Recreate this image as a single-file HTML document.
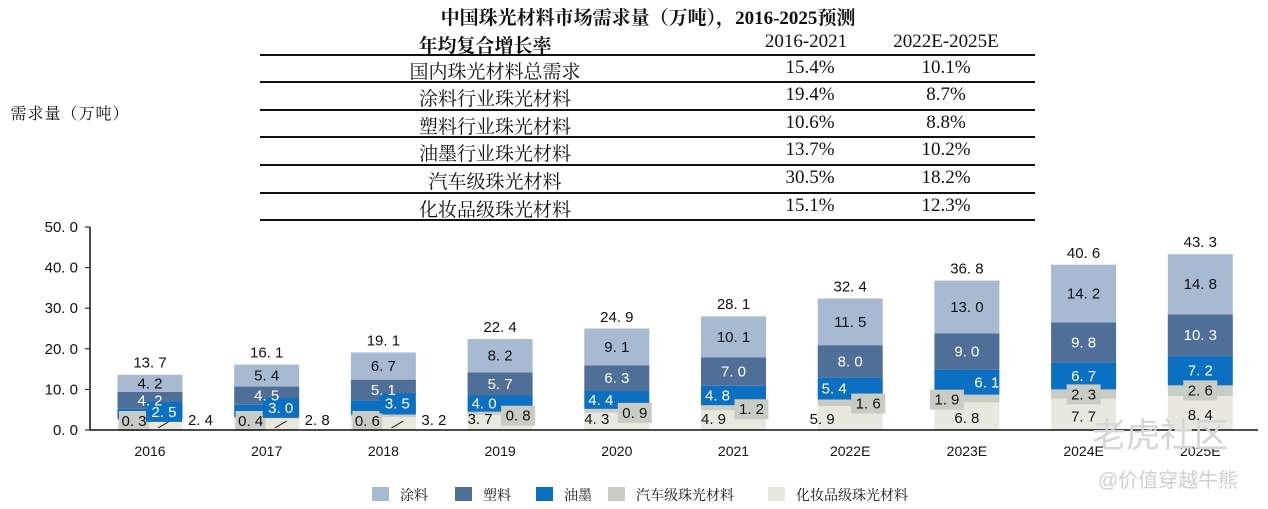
<!DOCTYPE html>
<html><head><meta charset="utf-8"><style>
body{margin:0;background:#fff;width:1268px;height:509px;overflow:hidden;position:relative;font-family:"Liberation Sans","Noto Sans CJK SC",sans-serif}
.t{position:absolute;white-space:nowrap;font-family:"Liberation Serif","Noto Serif CJK SC",serif;font-size:19px;color:#111;transform:translateX(-50%)}
.ln{position:absolute;left:260px;width:775px;height:2px;background:#111}
</style></head><body>
<div class="t" style="left:648px;top:3px;font-weight:bold;">中国珠光材料市场需求量（万吨），2016-2025预测</div>
<div class="t" style="left:485px;top:31px;font-weight:bold;">年均复合增长率</div>
<div class="t" style="left:806px;top:31px;">2016-2021</div>
<div class="t" style="left:946px;top:31px;">2022E-2025E</div>
<div id="tbl"></div>
<div class="t" style="left:70px;top:101px;font-size:16px;letter-spacing:1px;">需求量（万吨）</div>
<svg id="chart" width="1268" height="509" style="position:absolute;left:0;top:0"></svg>
<script>
const rows=["国内珠光材料总需求","涂料行业珠光材料","塑料行业珠光材料","油墨行业珠光材料","汽车级珠光材料","化妆品级珠光材料"];
const cagr1=["15.4%","19.4%","10.6%","13.7%","30.5%","15.1%"];
const cagr2=["10.1%","8.7%","8.8%","10.2%","18.2%","12.3%"];
const categories=["2016","2017","2018","2019","2020","2021","2022E","2023E","2024E","2025E"];
const cosmetics=[2.4,2.8,3.2,3.7,4.3,4.9,5.9,6.8,7.7,8.4];
const auto=[0.3,0.4,0.6,0.8,0.9,1.2,1.6,1.9,2.3,2.6];
const ink=[2.5,3.0,3.5,4.0,4.4,4.8,5.4,6.1,6.7,7.2];
const plastic=[4.2,4.5,5.1,5.7,6.3,7.0,8.0,9.0,9.8,10.3];
const coating=[4.2,5.4,6.7,8.2,9.1,10.1,11.5,13.0,14.2,14.8];
const totals=[13.7,16.1,19.1,22.4,24.9,28.1,32.4,36.8,40.6,43.3];
const yTicks=[0,10,20,30,40,50];

const tbl=document.getElementById('tbl');
const lineYs=[55,82,110,137,165,193,220];
lineYs.forEach((y,i)=>{const d=document.createElement('div');d.className='ln';d.style.top=(y-1)+'px';


tbl.appendChild(d);});
rows.forEach((r,i)=>{const y=lineYs[i]+2;
[[r,495,'table-row-label'],[cagr1[i],810,'table-cagr-2016-2021'],[cagr2[i],946,'table-cagr-2022-2025']].forEach(([txt,x,n])=>{
const d=document.createElement('div');d.className='t';d.textContent=txt;d.style.left=x+'px';d.style.top=y+'px';


tbl.appendChild(d);});});

const NS='http://www.w3.org/2000/svg',svg=document.getElementById('chart');
const y0=430,yTop=227,ax=90,axR=1258;
const Y=v=>y0-(v/50)*(y0-yTop);
const X=i=>150+i*116.7;
const bw=65;
function el(t,a,p){const e=document.createElementNS(NS,t);for(const k in a)e.setAttribute(k,a[k]);(p||svg).appendChild(e);return e;}
function txt(x,y,s,fill,anchor,size){const e=el('text',{x,y,fill:fill||'#111','font-size':size||15,'text-anchor':anchor||'middle','font-family':'"Liberation Sans","Noto Sans CJK SC",sans-serif'});e.textContent=s;return e;}
function box(x,y,w,col){const b=el('rect',{x:x-w/2,y:y-15,width:w,height:20,fill:col});}
yTicks.forEach(v=>{const t=txt(78,Y(v)+5,v.toFixed(1).replace('.','. '),'#111','end',15);


const l=el('line',{x1:ax-5,x2:ax,y1:Y(v),y2:Y(v),stroke:'#111'});

});
const colors={cosmetics:"#e9e8de",auto:"#c8ccc4",ink:"#0c70c2",plastic:"#4f6e98",coating:"#a7bad1"};
const series=[["cosmetics",cosmetics],["auto",auto],["ink",ink],["plastic",plastic],["coating",coating]];
const fmt=v=>v.toFixed(1).replace('.','. ');
const labels=[];
categories.forEach((c,i)=>{let acc=0;const cx=X(i);const bounds={};
series.forEach(([n,arr])=>{const v=arr[i];const r=el('rect',{x:cx-bw/2,y:Y(acc+v),width:bw,height:Y(acc)-Y(acc+v),fill:colors[n]});


bounds[n]=[acc,acc+v];acc+=v;});
const mid=n=>(Y(bounds[n][0])+Y(bounds[n][1]))/2+5;
// cosmetics
let cx1,cy1;
if(i<3){cx1=cx+bw/2+18;cy1=Y(0)-5;
const l=el('line',{x1:cx+8,y1:Y(0)-2,x2:cx+20,y2:Y(0)-9,stroke:'#111'});
}
else if(i<7){cx1=cx-(i===6?28:20);cy1=Y(0)-6;}
else{cx1=cx;cy1=mid('cosmetics')+2;}
labels.push([cx1,cy1,cosmetics[i],'#111','cosmetics']);
// auto
let ax1,ay1;const at=Y(bounds.auto[1]);
if(i<3){ax1=cx-16;ay1=Y(0)-4;}
else if(i<7){ax1=cx+18;ay1=at+9;}
else if(i===7){ax1=cx-20;ay1=at+10;}
else{ax1=cx;ay1=at+10;}
box(ax1,ay1,i<3?30:34,colors.auto);
// ink
let ix,iy;
if(i<3){ix=cx+14;iy=Y(bounds.ink[1])+8;box(ix,iy,36,colors.ink);}
else if(i<7){ix=cx-16;iy=mid('ink');}
else if(i===7){ix=cx+20;iy=mid('ink');}
else{ix=cx;iy=mid('ink');}
labels.push([ix,iy,ink[i],'#fff','ink']);
labels.push([ax1,ay1,auto[i],'#111','auto']);
labels.push([cx,mid('plastic'),plastic[i],'#fff','plastic']);
labels.push([cx,mid('coating'),coating[i],'#111','coating']);
const tt=txt(cx,Y(totals[i])-7,fmt(totals[i]));


const xl=txt(cx,456,c,'#111','middle',14);

});
labels.forEach(([x,y,v,col,n])=>{const t=txt(x,y,fmt(v),col);

});
const ya=el('line',{x1:ax,x2:ax,y1:yTop,y2:y0,stroke:'#111','stroke-width':1.5});


const xa=el('line',{x1:ax,x2:axR,y1:y0,y2:y0,stroke:'#111','stroke-width':1.5});


const leg=[["涂料",372,"#a7bad1"],["塑料",455,"#4f6e98"],["油墨",536,"#0c70c2"],["汽车级珠光材料",608,"#c8ccc4"],["化妆品级珠光材料",768,"#e9e8de"]];
leg.forEach(([s,x,c])=>{const g=el('g',{});
el('rect',{x:x,y:487,width:17,height:14,fill:c},g);
const t=el('text',{x:x+28,y:500,'font-size':14,fill:'#111','font-family':'"Liberation Serif","Noto Serif CJK SC",serif'},g);t.textContent=s;});
const w1=txt(1160,447,'老虎社区','#d5d5d5','middle',34);
const w2=txt(1168,487,'@价值穿越牛熊','#cfcfcf','middle',20);
</script>
</body></html>
